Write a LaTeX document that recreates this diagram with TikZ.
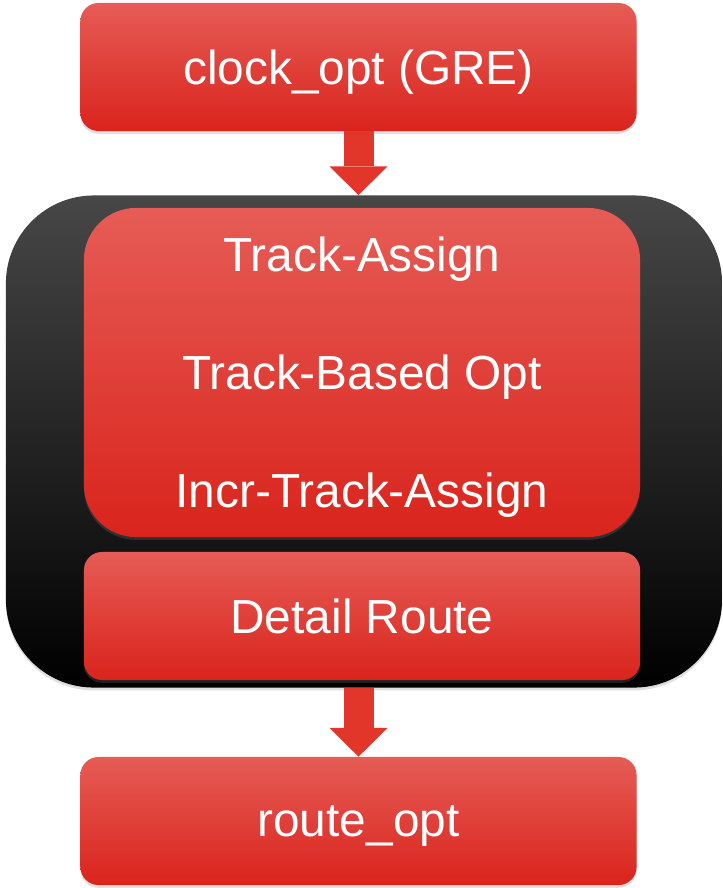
\documentclass[tikz,border=0pt]{standalone}
\usepackage{fontspec}
\setmainfont{Liberation Sans}
\usetikzlibrary{arrows.meta,shadows}
\definecolor{redtop}{HTML}{E65C56}
\definecolor{redmid}{HTML}{E8352B}
\definecolor{redbot}{HTML}{D9241C}
\definecolor{arrowred}{HTML}{E3362B}
\definecolor{greytop}{HTML}{474747}

\begin{document}
\begin{tikzpicture}[x=0.025cm, y=-0.025cm,
  stage/.style={rectangle, rounded corners=0.45cm, top color=redtop, middle color=redmid, bottom color=redbot,
    text=white, font=\fontsize{34}{84}\selectfont, align=center, inner sep=0pt, text depth=0pt,
    minimum width=13.9cm, minimum height=3.2cm,
    drop shadow={opacity=0.25, shadow xshift=0pt, shadow yshift=-2pt}},
  flow/.style={line width=0.75cm, draw=arrowred, -{Triangle[width=1.45cm, length=0.72cm, line width=0pt]}}]
\useasboundingbox (0,0) rectangle (723,888);

\node[rectangle, rounded corners=2.2cm, top color=greytop, middle color=black, bottom color=black,
  minimum width=17.9cm, minimum height=12.3cm,
  drop shadow={opacity=0.25, shadow xshift=0pt, shadow yshift=-2pt}] (flowbox) at (364,441.5) {};

\node[stage] (clk) at (358.5,67) {clock\_opt (GRE)};
\node[stage, rounded corners=1.3cm, minimum height=8.225cm] (ta) at (362,372.5)
  {Track-Assign\\Track-Based Opt\\Incr-Track-Assign};
\node[stage] (det) at (362,616) {Detail Route};
\node[stage] (ro) at (358.5,821) {route\_opt};

\draw[flow] (clk.south) -- (clk.south |- flowbox.north);
\draw[flow] (flowbox.south -| ro.north) -- (ro.north);
\end{tikzpicture}
\end{document}
